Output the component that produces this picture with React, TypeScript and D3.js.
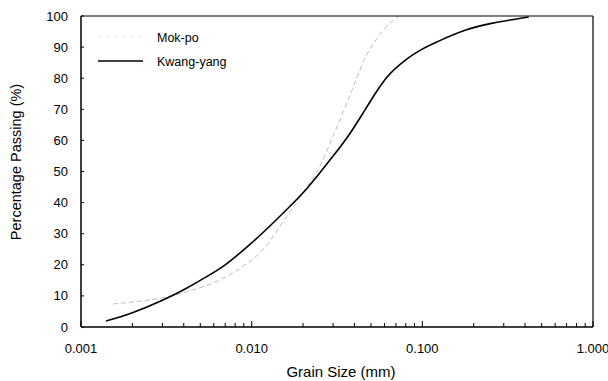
import React from "react";
import * as d3 from "d3";

const kwangSize = [0.0014, 0.002, 0.003, 0.004, 0.005, 0.007, 0.0097, 0.0152, 0.0209, 0.0286, 0.0374, 0.0458, 0.0536, 0.0613, 0.0803, 0.0959, 0.1256, 0.18, 0.258, 0.369, 0.42];
const kwangPass = [1.9, 4.6, 8.6, 12.0, 15.0, 20.0, 26.4, 36.5, 44.3, 53.5, 62.0, 69.5, 75.5, 80.0, 86.0, 88.8, 92.0, 95.5, 97.7, 99.2, 99.7];

const mokSize = [0.001538, 0.002367, 0.002897, 0.004519, 0.006767, 0.008506, 0.0116, 0.01602, 0.01987, 0.02498, 0.02977, 0.03741, 0.04578, 0.05455, 0.06412, 0.07336];
const mokPass = [7.4, 8.5, 9.2, 11.9, 15.6, 18.8, 24.8, 35.5, 43, 51.5, 61, 74, 86, 93, 97.6, 100];

const xTickLabels = ["0.001", "0.010", "0.100", "1.000"];
const xMajor = [0.001, 0.01, 0.1, 1];
const yTicks = [0, 10, 20, 30, 40, 50, 60, 70, 80, 90, 100];

const W = 608, H = 381;
const L = 81, R = 593, T = 16, B = 327;
const FONT = "Liberation Sans, Arial, sans-serif";

export default function App() {
  const x = d3.scaleLog().domain([0.001, 1]).range([L, R]);
  const y = d3.scaleLinear().domain([0, 100]).range([B, T]);
  const line = d3.line<[number, number]>().x(d => x(d[0])).y(d => y(d[1])).curve(d3.curveMonotoneX);
  const kw = kwangSize.map((s, i) => [s, kwangPass[i]] as [number, number]);
  const mk = mokSize.map((s, i) => [s, mokPass[i]] as [number, number]);
  const minor: number[] = [];
  for (const dec of [0.001, 0.01, 0.1]) for (let k = 2; k <= 9; k++) minor.push(dec * k);

  return (
    <svg width={W} height={H} style={{ position: "absolute", left: 0, top: 0, background: "#fff" }}>
      <rect x={0} y={0} width={W} height={H} fill="#fff" />
      <path d={line(mk) || ""} fill="none" stroke="#bdbdbd" strokeWidth={1} strokeDasharray="5,3" />
      <path d={line(kw) || ""} fill="none" stroke="#000" strokeWidth={1.6} />
      {/* frame */}
      <line x1={L} y1={T} x2={R} y2={T} stroke="#000" strokeWidth={1.2} />
      <line x1={R} y1={T} x2={R} y2={B} stroke="#000" strokeWidth={1.2} />
      <line x1={L} y1={T} x2={L} y2={B} stroke="#000" strokeWidth={1.5} />
      <line x1={L} y1={B} x2={R} y2={B} stroke="#000" strokeWidth={1.5} />
      {yTicks.map(t => (
        <g key={"y" + t}>
          <line x1={L} x2={L + 3} y1={y(t)} y2={y(t)} stroke="#000" strokeWidth={1} />
          <text x={68} y={y(t)} dy="0.35em" textAnchor="end" fontSize={13} fontFamily={FONT}>{t}</text>
        </g>
      ))}
      {minor.map(m => (
        <line key={"m" + m} x1={x(m)} x2={x(m)} y1={B} y2={B - 4} stroke="#000" strokeWidth={1} />
      ))}
      {xMajor.map((m, i) => (
        <g key={"x" + m}>
          <line x1={x(m)} x2={x(m)} y1={B} y2={B - 6} stroke="#000" strokeWidth={1} />
          <text x={x(m)} y={353} textAnchor="middle" fontSize={13} fontFamily={FONT}>{xTickLabels[i]}</text>
        </g>
      ))}
      <text x={341} y={377} textAnchor="middle" fontSize={15} fontFamily={FONT}>Grain Size (mm)</text>
      <text transform="translate(21,162) rotate(-90)" textAnchor="middle" fontSize={14.5} fontFamily={FONT}>Percentage Passing (%)</text>
      {/* legend */}
      <line x1={98} x2={143} y1={37} y2={37} stroke="#ececec" strokeWidth={1} strokeDasharray="5,3" />
      <text x={157} y={42} fontSize={12.5} fontFamily={FONT}>Mok-po</text>
      <line x1={98} x2={143} y1={61} y2={61} stroke="#000" strokeWidth={1.3} />
      <text x={157} y={66} fontSize={12.5} fontFamily={FONT}>Kwang-yang</text>
    </svg>
  );
}
